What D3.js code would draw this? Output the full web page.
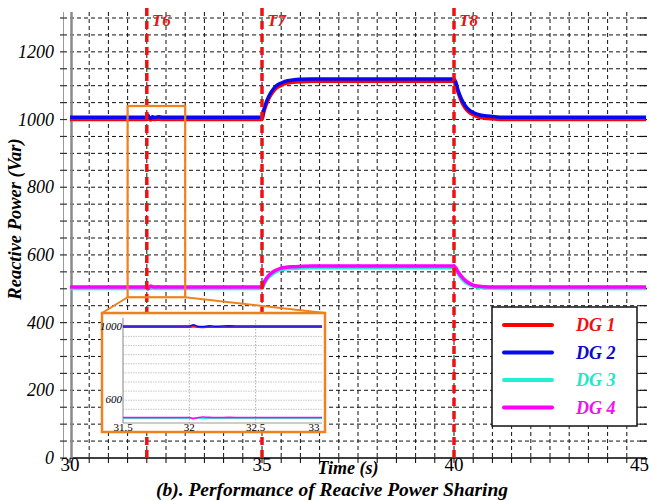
<!DOCTYPE html>
<html><head><meta charset="utf-8">
<script src="https://cdn.jsdelivr.net/npm/d3@7"></script>
<style>html,body{margin:0;padding:0;background:#fff;}svg{display:block;}
.t{font-family:"Liberation Serif";}</style>
</head><body>
<svg id="c" width="649" height="501"></svg>
<script>
// ---- data ----
const times = [30, 31.0, 31.98, 32.0, 32.03, 32.06, 32.1, 32.15, 32.2, 32.3, 32.4, 33.0, 34.0, 35.0,
  35.05, 35.1, 35.2, 35.3, 35.4, 35.5, 35.6, 35.8, 36.0, 36.3, 37.0, 38.0, 39.0, 40.0,
  40.05, 40.1, 40.2, 40.3, 40.4, 40.5, 40.6, 40.8, 41.0, 41.3, 42.0, 43.0, 44.0, 45.0];
const dg1 = [1000, 1000, 1000, 1000, 1003, 1001, 999, 1001, 1000, 1001, 1000, 1000, 1000, 1000,
  1023, 1041, 1067, 1084, 1095, 1101, 1106, 1110, 1112, 1113, 1113, 1113, 1113, 1113,
  1102, 1082, 1052, 1033, 1021, 1014, 1009, 1004, 1002, 1000, 1000, 1000, 1000, 1000];
const dg2 = [1007, 1007, 1007, 1007, 1013, 1006, 1004, 1008, 1006, 1008, 1007, 1007, 1007, 1007,
  1030, 1048, 1074, 1091, 1102, 1108, 1113, 1117, 1119, 1120, 1120, 1120, 1120, 1120,
  1109, 1089, 1059, 1040, 1028, 1021, 1016, 1011, 1009, 1007, 1007, 1007, 1007, 1007];
const dg3 = [501, 501, 501, 501, 499, 503, 501, 502, 501, 501, 501, 501, 501, 501,
  513, 523, 537, 546, 552, 556, 558, 560, 561, 562, 562, 562, 562, 562,
  556, 546, 530, 519, 512, 508, 505, 503, 502, 501, 501, 501, 501, 501];
const dg4 = [505, 505, 505, 505, 500, 504, 508, 506, 505, 506, 505, 505, 505, 505,
  518, 528, 542, 551, 557, 561, 563, 565, 566, 567, 567, 567, 567, 567,
  561, 551, 536, 524, 516, 511, 508, 506, 505, 505, 505, 505, 505, 505];
const seriesNames = ["DG 1", "DG 2", "DG 3", "DG 4"];
const eventTimes = [32, 35, 40];
const eventLabels = ["T6", "T7", "T8"];
const xTicks = [30, 35, 40, 45];
const yTicks = [0, 200, 400, 600, 800, 1000, 1200];
const zoomX = [31.5, 33];
const zoomY = [475, 1040];
const insetXTicks = [31.5, 32, 32.5, 33];
const insetYTicks = [600, 1000];

// ---- styles ----
const lineColors = ["#ff0000", "#0808f0", "#22f0d2", "#ff00ff"];
const textColors = ["#f01010", "#0a0ac8", "#20e8c8", "#f010f0"];
const orange = "#f0821e";

const svg = d3.select("#c");
const x = d3.scaleLinear().domain([30, 45]).range([70, 646]);
const y = d3.scaleLinear().domain([0, 1300]).range([458, 18]);
const series = [dg1, dg2, dg3, dg4];

function T(parent) { return parent.append("text").attr("class", "t"); }
function bi(sel) { return sel.attr("font-weight", "bold").attr("font-style", "italic"); }

// grid
const g = svg.append("g");
d3.range(50, 1301, 50).forEach(v => {
  g.append("line").attr("x1", x(30)).attr("x2", x(45)).attr("y1", y(v)).attr("y2", y(v))
    .attr("stroke", "#111").attr("stroke-width", 1).attr("stroke-dasharray", "4,3");
  g.append("line").attr("x1", 640).attr("x2", 647).attr("y1", y(v)).attr("y2", y(v))
    .attr("stroke", "#111").attr("stroke-width", 1.2);
});
d3.range(30.5, 45, 0.5).forEach(v => {
  g.append("line").attr("x1", x(v)).attr("x2", x(v)).attr("y1", 12).attr("y2", y(0))
    .attr("stroke", "#111").attr("stroke-width", 1).attr("stroke-dasharray", "4,3");
});
// bottom axis
g.append("line").attr("x1", x(30)).attr("x2", x(45)).attr("y1", y(0)).attr("y2", y(0))
  .attr("stroke", "#000").attr("stroke-width", 1.5);
d3.range(30, 45.01, 0.5).forEach(v => {
  g.append("line").attr("x1", x(v)).attr("x2", x(v)).attr("y1", y(0)).attr("y2", y(0) + 5)
    .attr("stroke", "#000").attr("stroke-width", 1);
});
// left axis (double gray)
g.append("line").attr("x1", 71.5).attr("x2", 71.5).attr("y1", 12).attr("y2", y(0))
  .attr("stroke", "#8a8a8a").attr("stroke-width", 2.5);
g.append("line").attr("x1", 63.5).attr("x2", 63.5).attr("y1", 12).attr("y2", y(0))
  .attr("stroke", "#9a9a9a").attr("stroke-width", 1);
d3.range(0, 1301, 50).forEach(v => {
  g.append("line").attr("x1", 60).attr("x2", 67).attr("y1", y(v)).attr("y2", y(v))
    .attr("stroke", "#333").attr("stroke-width", 1.2);
});
// tick labels
xTicks.forEach((v, i) => {
  const last = i === xTicks.length - 1;
  T(svg).attr("x", last ? 649 : x(v)).attr("y", 471)
    .attr("text-anchor", last ? "end" : "middle")
    .attr("font-size", 19).text(v);
});
yTicks.forEach(v => {
  T(svg).attr("x", 54).attr("y", y(v) + 6).attr("text-anchor", "end")
    .attr("font-style", "italic").attr("font-size", 18).text(v);
});

// data lines
const line = d3.line().x((d, i) => x(times[i])).y(d => y(d)).curve(d3.curveMonotoneX);
series.forEach((s, k) => {
  svg.append("path").attr("d", line(s)).attr("fill", "none")
    .attr("stroke", lineColors[k]).attr("stroke-width", 3.5);
});

// event lines
eventTimes.forEach((t, i) => {
  svg.append("line").attr("x1", x(t)).attr("x2", x(t)).attr("y1", 8).attr("y2", 463)
    .attr("stroke", "#ee1111").attr("stroke-width", 3.5).attr("stroke-dasharray", "8,5");
  bi(T(svg)).attr("x", x(t) + 5).attr("y", 26).attr("fill", "#ee1111")
    .attr("font-size", 17).text(eventLabels[i]);
});

// zoom source rect + inset
const ix = d3.scaleLinear().domain(zoomX).range([123, 322]);
const iy = d3.scaleLinear().domain(zoomY).range([423, 320]);
const box = {x0: 102, x1: 325, y0: 313, y1: 432};
svg.append("rect").attr("x", x(zoomX[0])).attr("y", y(zoomY[1]))
  .attr("width", x(zoomX[1]) - x(zoomX[0])).attr("height", y(zoomY[0]) - y(zoomY[1]))
  .attr("fill", "none").attr("stroke", orange).attr("stroke-width", 2.2);
svg.append("line").attr("x1", x(zoomX[0])).attr("y1", y(zoomY[0])).attr("x2", box.x0).attr("y2", box.y0)
  .attr("stroke", orange).attr("stroke-width", 2);
svg.append("line").attr("x1", x(zoomX[1])).attr("y1", y(zoomY[0])).attr("x2", box.x1).attr("y2", box.y0)
  .attr("stroke", orange).attr("stroke-width", 2);
svg.append("rect").attr("x", box.x0).attr("y", box.y0).attr("width", box.x1 - box.x0)
  .attr("height", box.y1 - box.y0).attr("fill", "#fff").attr("stroke", orange).attr("stroke-width", 2.5);
svg.append("clipPath").attr("id", "ic").append("rect").attr("x", 123).attr("y", 320)
  .attr("width", 199).attr("height", 103);
const ig = svg.append("g");
d3.range(500, 1041, 50).forEach(v => {
  ig.append("line").attr("x1", 123).attr("x2", 322).attr("y1", iy(v)).attr("y2", iy(v))
    .attr("stroke", "#b8b8b8").attr("stroke-width", 0.8).attr("stroke-dasharray", "1.5,1");
});
[32, 32.5].forEach(v => {
  ig.append("line").attr("x1", ix(v)).attr("x2", ix(v)).attr("y1", 320).attr("y2", 423)
    .attr("stroke", "#999").attr("stroke-width", 0.8).attr("stroke-dasharray", "1.5,1.5");
});
ig.append("line").attr("x1", 123).attr("x2", 123).attr("y1", 318).attr("y2", 423)
  .attr("stroke", "#999").attr("stroke-width", 1.2);
ig.append("line").attr("x1", 123).attr("x2", 322).attr("y1", 423).attr("y2", 423)
  .attr("stroke", "#999").attr("stroke-width", 1);
const iline = d3.line().x((d, i) => ix(times[i])).y(d => iy(d)).curve(d3.curveMonotoneX);
series.forEach((s, k) => {
  ig.append("path").attr("d", iline(s)).attr("fill", "none").attr("clip-path", "url(#ic)")
    .attr("stroke", lineColors[k]).attr("stroke-width", 1.6);
});
insetXTicks.forEach((v, i) => {
  T(ig).attr("x", ix(v) - (i === insetXTicks.length - 1 ? 8 : 0)).attr("y", 431)
    .attr("text-anchor", "middle").attr("font-size", 11).text(v);
});
insetYTicks.forEach(v => {
  T(ig).attr("x", 122).attr("y", iy(v) + 3).attr("text-anchor", "end")
    .attr("font-style", "italic").attr("font-size", 11).text(v);
});

// legend
const lg = svg.append("g");
lg.append("rect").attr("x", 492).attr("y", 307).attr("width", 145).attr("height", 119)
  .attr("fill", "#fff").attr("stroke", "#111").attr("stroke-width", 1.5);
seriesNames.forEach((n, k) => {
  const yy = 325 + k * 27.5;
  lg.append("line").attr("x1", 504).attr("x2", 552).attr("y1", yy).attr("y2", yy)
    .attr("stroke", lineColors[k]).attr("stroke-width", 4).attr("stroke-linecap", "round");
  bi(T(lg)).attr("x", 576).attr("y", yy + 6).attr("fill", textColors[k])
    .attr("font-size", 18).text(n);
});

// titles
bi(T(svg)).attr("x", 348).attr("y", 474).attr("text-anchor", "middle")
  .attr("font-size", 18).text("Time (s)");
bi(T(svg)).attr("x", 332).attr("y", 496).attr("text-anchor", "middle")
  .attr("font-size", 19.5).text("(b). Performance of Reacive Power Sharing");
bi(T(svg)).attr("transform", "translate(21,219) rotate(-90)").attr("text-anchor", "middle")
  .attr("font-size", 18.5).text("Reactive Power (Var)");
</script>
</body></html>
